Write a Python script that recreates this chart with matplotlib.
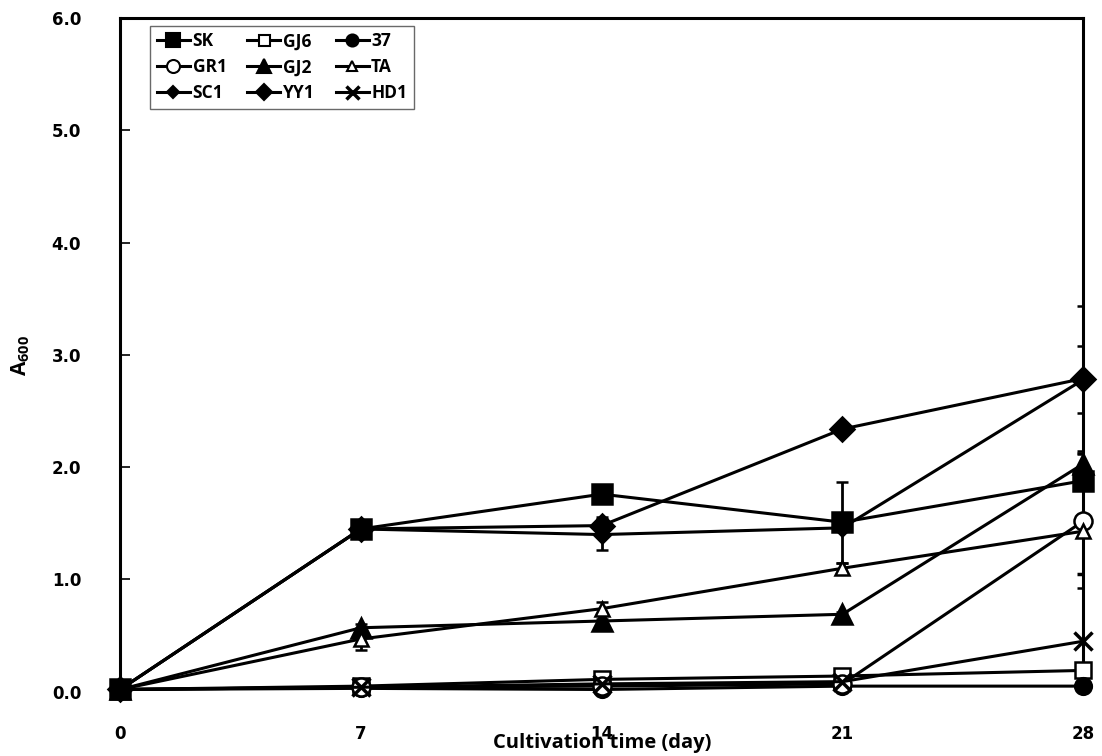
"""Growth (A600) of the isolates over 28 days of cultivation."""

import matplotlib
matplotlib.use('Agg')
import matplotlib.pyplot as plt
import numpy as np

plt.rcParams.update({'font.family': ['Open Sans', 'DejaVu Sans'], 'axes.linewidth': 2.2,
                     'mathtext.fontset': 'custom', 'mathtext.bf': 'Open Sans:bold',
                     'mathtext.rm': 'Open Sans:bold'})

days = [0, 7, 14, 21, 28]
strains = ['SK', 'GJ6', '37', 'GR1', 'GJ2', 'TA', 'SC1', 'YY1', 'HD1']
a600 = {
    'SK':  [0.02, 1.45, 1.76, 1.51, 1.88],
    'GJ6': [0.02, 0.05, 0.11, 0.14, 0.19],
    '37':  [0.02, 0.03, 0.02, 0.05, 0.05],
    'GR1': [0.02, 0.04, 0.05, 0.07, 1.52],
    'GJ2': [0.02, 0.57, 0.63, 0.69, 2.03],
    'TA':  [0.02, 0.47, 0.74, 1.10, 1.43],
    'SC1': [0.02, 1.45, 1.40, 1.46, 2.78],
    'YY1': [0.02, 1.45, 1.48, 2.34, 2.79],
    'HD1': [0.02, 0.04, 0.07, 0.09, 0.45],
}
sd = {
    'SK':  [0.0, 0.02, 0.03, 0.36, 0.05],
    'GJ6': [0.0, 0.01, 0.02, 0.03, 0.03],
    '37':  [0.0, 0.01, 0.01, 0.01, 0.02],
    'GR1': [0.0, 0.01, 0.01, 0.02, 0.60],
    'GJ2': [0.0, 0.03, 0.02, 0.02, 0.10],
    'TA':  [0.0, 0.10, 0.06, 0.05, 0.05],
    'SC1': [0.0, 0.02, 0.14, 0.03, 0.30],
    'YY1': [0.0, 0.02, 0.08, 0.03, 0.65],
    'HD1': [0.0, 0.01, 0.01, 0.02, 0.60],
}
styles = {
    'SK':  dict(marker='s', ms=14, mfc='k'),
    'GJ6': dict(marker='s', ms=11, mfc='w'),
    '37':  dict(marker='o', ms=12, mfc='k'),
    'GR1': dict(marker='o', ms=13, mfc='w'),
    'GJ2': dict(marker='^', ms=14, mfc='k'),
    'TA':  dict(marker='^', ms=10, mfc='w'),
    'SC1': dict(marker='D', ms=8, mfc='k'),
    'YY1': dict(marker='D', ms=12, mfc='k'),
    'HD1': dict(marker='x', ms=13, mfc='k', mew=2.5),
}

fig = plt.figure(figsize=(11.02, 7.56), dpi=100)
ax = fig.add_axes([0.109, 0.085, 0.874, 0.891])

for s in strains:
    st = dict(styles[s])
    mew = st.pop('mew', 1.8)
    line, caps, bars = ax.errorbar(days, a600[s], yerr=sd[s], color='k', lw=2.2, mec='k', mew=mew,
                                   elinewidth=2.0, capsize=4, capthick=2.0, zorder=3, **st)
    line.set_clip_on(False)

ax.set_xlim(0, 28)
ax.set_ylim(0, 6)
ax.set_xticks(days)
ax.set_yticks(np.arange(0, 6.1, 1.0))
ax.set_yticklabels([f'{v:.1f}' for v in np.arange(0, 6.1, 1.0)])
ax.tick_params(axis='y', direction='in', length=7, width=1.2, pad=28, labelsize=12)
ax.tick_params(axis='x', length=0, pad=24, labelsize=12)
for lab in ax.get_xticklabels() + ax.get_yticklabels():
    lab.set_fontweight('bold')
    lab.set_family('DejaVu Sans')

ax.set_xlabel('Cultivation time (day)', fontsize=14.5, fontweight='bold', labelpad=-7)
ax.set_ylabel(r'A$_{\mathbf{600}}$', fontsize=15, fontweight='bold', labelpad=14)
ax.spines['bottom'].set_visible(False)

order = ['SK', 'GR1', 'SC1', 'GJ6', 'GJ2', 'YY1', '37', 'TA', 'HD1']
leg_h = []
for s in order:
    st = dict(styles[s])
    mew = st.pop('mew', 1.5)
    st['ms'] = st['ms'] * 0.72
    leg_h.append(plt.Line2D([0], [0], color='k', lw=2.2, mec='k', mew=mew, **st))
leg = ax.legend(leg_h, order, ncol=3, loc='upper left', bbox_to_anchor=(0.031, 0.989),
                prop={'weight': 'bold', 'size': 12.5}, frameon=True, fancybox=False,
                edgecolor='#444444', handlelength=1.9, handletextpad=0.15,
                columnspacing=1.2, labelspacing=0.45, borderpad=0.4, borderaxespad=0)
leg.get_frame().set_linewidth(1.0)

plt.savefig('out.png', dpi=100)
